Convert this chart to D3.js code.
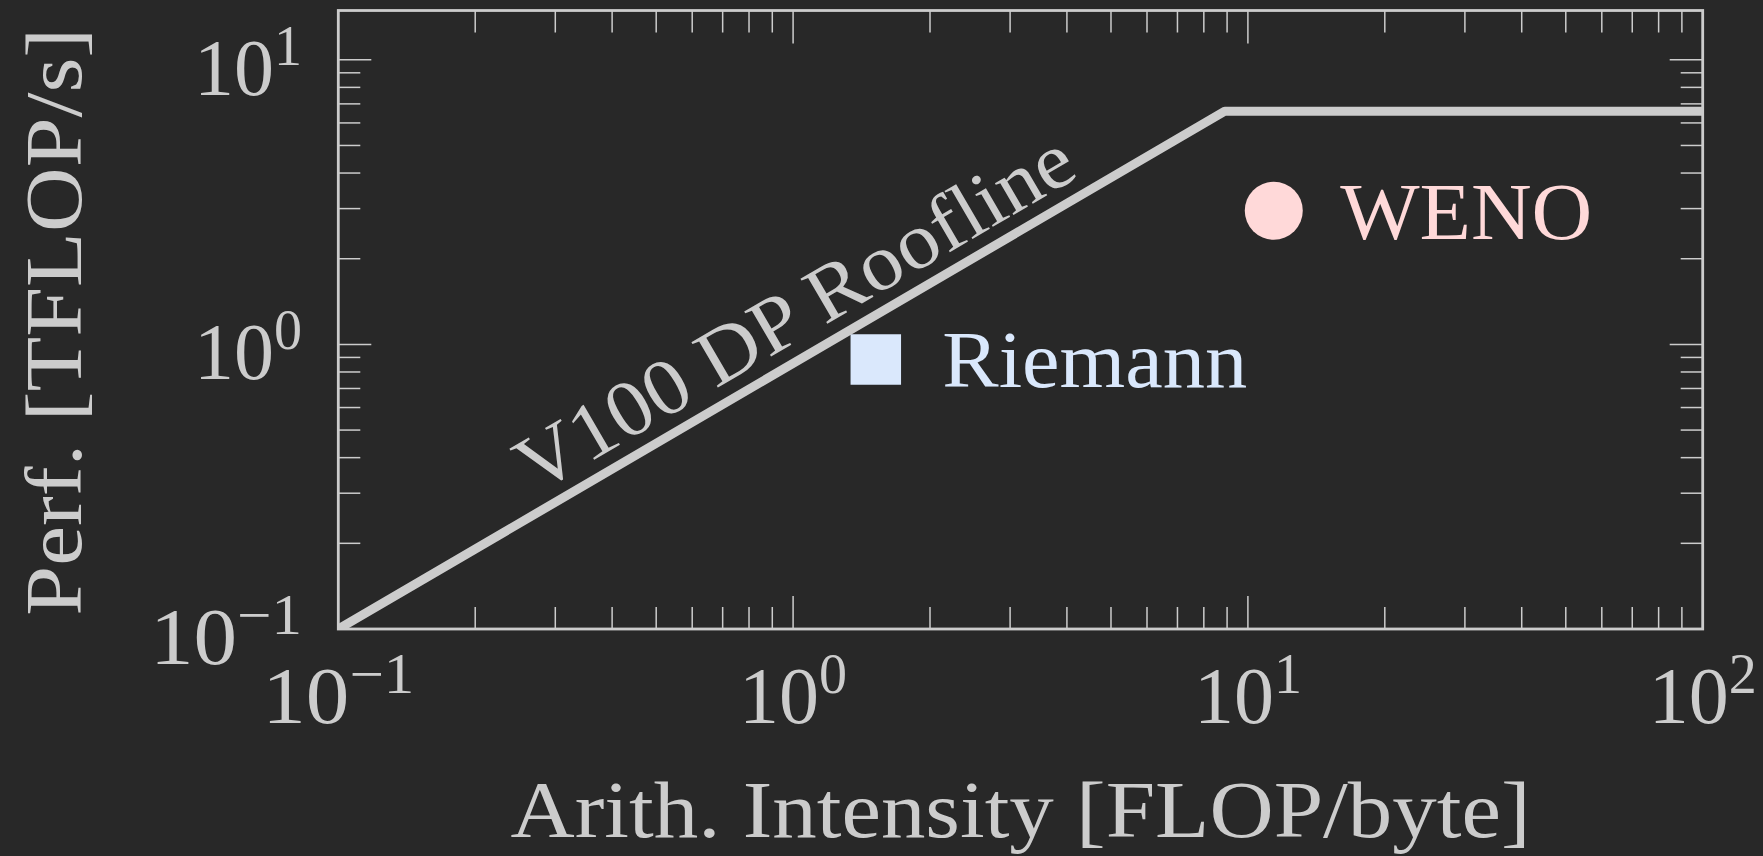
<!DOCTYPE html>
<html><head><meta charset="utf-8">
<script src="https://cdn.jsdelivr.net/npm/d3@7"></script>
<style>html,body{margin:0;padding:0;background:#282828;} svg{display:block}</style>
</head><body>
<script>
// ---- data ----
const xTickValues = [0.1, 1, 10, 100];
const xTickExp = ["\u22121", "0", "1", "2"];
const yTickValues = [0.1, 1, 10];
const yTickExp = ["\u22121", "0", "1"];
const rooflineX = [0.1, 8.9, 100];
const rooflineY = [0.1, 6.6, 6.6];
const rooflineLabel = "V100 DP Roofline";
const kernelNames = ["Riemann", "WENO"];
const kernelX = [1.52, 11.4];
const kernelY = [0.885, 2.95];
const kernelShapes = ["square", "circle"];
const kernelColors = ["#dae8fc", "#ffd9d9"];
const xLabel = "Arith. Intensity [FLOP/byte]";
const yLabel = "Perf. [TFLOP/s]";

// ---- layout ----
const W = 1763, H = 856;
const L = 338.3, R = 1702.7, T = 10.5, B = 629;
const fg = "#cccccc";
const font = "'Liberation Serif', 'DejaVu Serif', serif";
const fs = 80, sfs = 56;

const svg = d3.select("body").append("svg").attr("width", W).attr("height", H);
svg.append("rect").attr("width", W).attr("height", H).attr("fill", "#282828");

const x = d3.scaleLog().domain([0.1, 100]).range([L, R]);
const y = d3.scaleLog().domain([0.1, 14.9]).range([B, T]);

svg.append("defs").append("clipPath").attr("id", "clip")
  .append("rect").attr("x", L).attr("y", T).attr("width", R - L).attr("height", B - T);

const isMajor = v => Math.abs(Math.log10(v) - Math.round(Math.log10(v))) < 1e-9;
const MAJ = 33, MIN = 22;

// ticks (inward, all four sides)
const tg = svg.append("g").attr("stroke", fg).attr("stroke-width", 1.5);
x.ticks().forEach(v => {
  const len = isMajor(v) ? MAJ : MIN, px = x(v);
  tg.append("line").attr("x1", px).attr("x2", px).attr("y1", B).attr("y2", B - len);
  tg.append("line").attr("x1", px).attr("x2", px).attr("y1", T).attr("y2", T + len);
});
y.ticks().forEach(v => {
  const len = isMajor(v) ? MAJ : MIN, py = y(v);
  tg.append("line").attr("y1", py).attr("y2", py).attr("x1", L).attr("x2", L + len);
  tg.append("line").attr("y1", py).attr("y2", py).attr("x1", R).attr("x2", R - len);
});

// roofline
const pts = rooflineX.map((v, i) => [v, rooflineY[i]]);
svg.append("path").datum(pts)
  .attr("clip-path", "url(#clip)")
  .attr("d", d3.line().x(d => x(d[0])).y(d => y(d[1])))
  .attr("fill", "none").attr("stroke", fg).attr("stroke-width", 9)
  .attr("stroke-linejoin", "round");

// roofline label
{
  const x0 = x(rooflineX[0]), y0 = y(rooflineY[0]), x1 = x(rooflineX[1]), y1 = y(rooflineY[1]);
  const ang = Math.atan2(y1 - y0, x1 - x0) * 180 / Math.PI;
  const t = (Math.log10(1) - Math.log10(rooflineX[0])) / (Math.log10(rooflineX[1]) - Math.log10(rooflineX[0]));
  const lx = x0 + t * (x1 - x0), ly = y0 + t * (y1 - y0);
  svg.append("text")
    .attr("transform", `translate(${lx},${ly}) rotate(${ang}) translate(27,-17)`)
    .attr("text-anchor", "middle").attr("font-family", font).attr("font-size", fs)
    .attr("fill", fg).attr("textLength", 632).attr("lengthAdjust", "spacingAndGlyphs")
    .text(rooflineLabel);
}

// spine
svg.append("rect").attr("x", L).attr("y", T).attr("width", R - L).attr("height", B - T)
  .attr("fill", "none").attr("stroke", fg).attr("stroke-width", 2.8);

// markers + labels
kernelNames.forEach((name, i) => {
  const px = x(kernelX[i]), py = y(kernelY[i]);
  const sym = kernelShapes[i] === "square" ? d3.symbolSquare : d3.symbolCircle;
  const size = kernelShapes[i] === "square" ? 50.5 * 50.5 : Math.PI * 29 * 29;
  svg.append("path").attr("d", d3.symbol().type(sym).size(size)())
    .attr("transform", `translate(${px},${py})`).attr("fill", kernelColors[i]);
  svg.append("text").attr("x", px + 66.5).attr("y", py + 28)
    .attr("font-family", font).attr("font-size", fs).attr("fill", kernelColors[i])
    .attr("textLength", name === "WENO" ? 252 : 305).attr("lengthAdjust", "spacingAndGlyphs")
    .text(name);
});

// tick labels
function powLabel(sel, exp) {
  sel.append("tspan").text("10");
  sel.append("tspan").attr("font-size", sfs).attr("dy", -30).text(exp);
  if (exp.length > 1) sel.attr("textLength", 152).attr("lengthAdjust", "spacingAndGlyphs");
}
xTickValues.forEach((v, i) => {
  const t = svg.append("text").attr("x", x(v)).attr("y", B + 94)
    .attr("text-anchor", "middle").attr("font-family", font).attr("font-size", fs).attr("fill", fg);
  powLabel(t, xTickExp[i]);
});
yTickValues.forEach((v, i) => {
  const t = svg.append("text").attr("x", 302).attr("y", y(v) + 35)
    .attr("text-anchor", "end").attr("font-family", font).attr("font-size", fs).attr("fill", fg);
  powLabel(t, yTickExp[i]);
});

// axis labels
svg.append("text").attr("x", (L + R) / 2).attr("y", 837)
  .attr("text-anchor", "middle").attr("font-family", font).attr("font-size", fs).attr("fill", fg)
  .attr("textLength", 1020).attr("lengthAdjust", "spacingAndGlyphs").text(xLabel);
svg.append("text").attr("transform", `translate(80.5,${(T + B) / 2 + 2}) rotate(-90)`)
  .attr("text-anchor", "middle").attr("font-family", font).attr("font-size", fs).attr("fill", fg)
  .attr("textLength", 588).attr("lengthAdjust", "spacingAndGlyphs").text(yLabel);
</script>
</body></html>
